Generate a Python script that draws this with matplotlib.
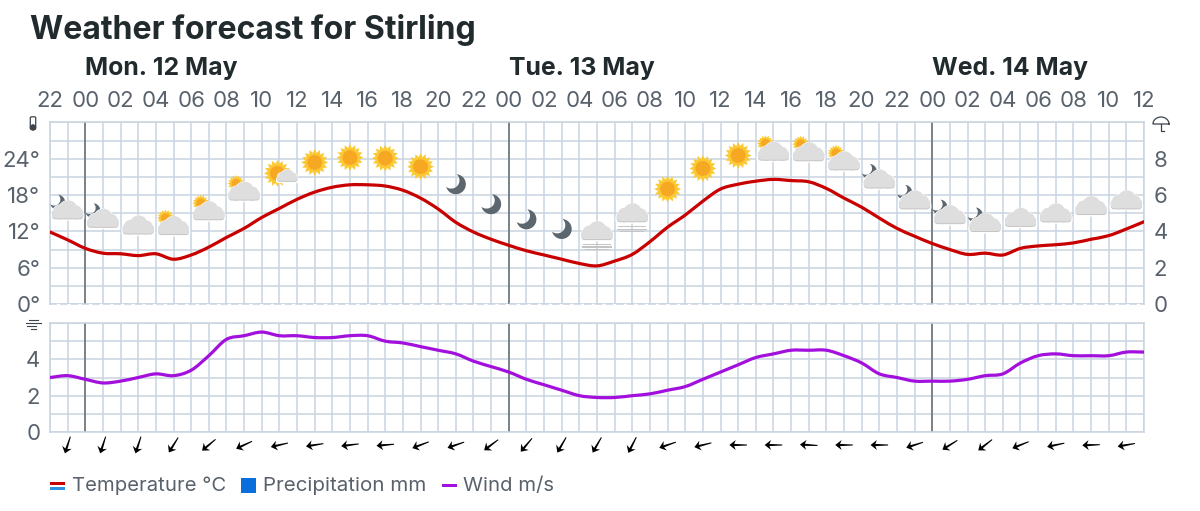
#!/usr/bin/python

import numpy as np
import matplotlib
matplotlib.use('Agg')
import matplotlib.pyplot as plt
from matplotlib.patches import Circle, FancyBboxPatch, PathPatch, Rectangle
from matplotlib.path import Path
from matplotlib.transforms import Affine2D, IdentityTransform

# hourly values, first one is 22:00 on Monday's eve
temperature = [11.9, 10.6, 9.2, 8.4, 8.3, 8.0, 8.3, 7.4, 8.1, 9.4, 11.0, 12.5, 14.3, 15.8, 17.3, 18.5,
               19.3, 19.7, 19.7, 19.5, 18.8, 17.5, 15.7, 13.5, 11.9, 10.7, 9.7, 8.8, 8.1, 7.4, 6.7, 6.3,
               7.1, 8.2, 10.3, 12.7, 14.7, 17.0, 19.0, 19.8, 20.3, 20.6, 20.4, 20.2, 19.1, 17.5, 16.0,
               14.2, 12.5, 11.2, 10.0, 9.0, 8.2, 8.4, 8.1, 9.2, 9.6, 9.8, 10.1, 10.7, 11.3, 12.4, 13.6]
wind = [3.0, 3.1, 2.9, 2.7, 2.8, 3.0, 3.2, 3.1, 3.4, 4.2, 5.1, 5.3, 5.5, 5.3, 5.3, 5.2, 5.2, 5.3, 5.3,
        5.0, 4.9, 4.7, 4.5, 4.3, 3.9, 3.6, 3.3, 2.9, 2.6, 2.3, 2.0, 1.9, 1.9, 2.0, 2.1, 2.3, 2.5, 2.9,
        3.3, 3.7, 4.1, 4.3, 4.5, 4.5, 4.5, 4.2, 3.8, 3.2, 3.0, 2.8, 2.8, 2.8, 2.9, 3.1, 3.2, 3.8, 4.2,
        4.3, 4.2, 4.2, 4.2, 4.4, 4.4]
hours = list(range(63))
hour_labels = ['22', '00', '02', '04', '06', '08', '10', '12', '14', '16', '18', '20'] + \
              ['22', '00', '02', '04', '06', '08', '10', '12', '14', '16', '18', '20'] + \
              ['22', '00', '02', '04', '06', '08', '10', '12']
midnights = [2, 26, 50]
day_labels = ['Mon. 12 May', 'Tue. 13 May', 'Wed. 14 May']

# symbols sit on every second hour
icon_hours = list(range(1, 62, 2))
icon_kinds = ['moon_cloud', 'moon_cloud', 'cloud', 'sun_cloud', 'sun_cloud', 'sun_cloud', 'sun_small',
              'sun', 'sun', 'sun', 'sun', 'moon', 'moon', 'moon', 'moon', 'fog', 'fog', 'sun', 'sun', 'sun',
              'sun_cloud', 'sun_cloud', 'sun_cloud', 'moon_cloud', 'moon_cloud', 'moon_cloud', 'moon_cloud',
              'cloud', 'cloud', 'cloud', 'cloud']
icon_levels = [14.0, 12.6, 11.5, 11.4, 13.85, 17.1, 21.6, 23.4, 24.2, 24.1, 22.7, 19.8, 16.5, 14.0, 12.4,
               10.4, 13.35, 19.0, 22.4, 24.55, 23.7, 23.6, 22.1, 19.1, 15.65, 13.2, 11.9, 12.75, 13.5, 14.7,
               15.65]
wind_from = [18, 18, 18, 32, 50, 65, 77, 81, 83, 85, 69, 71, 53, 40, 30, 30, 27, 71, 76, 90, 90, 93, 90, 90,
             72, 58, 52, 68, 78, 88, 80]

grid_col = '#c9d4df'
text_col = '#59626c'
dark_col = '#212b2e'

W, H = 1200, 511
px = IdentityTransform()
plt.rcParams['font.family'] = ['Inter', 'DejaVu Sans']
fig = plt.figure(figsize=(W / 100, H / 100), dpi=100)


def pixel_axes(left, top, right, bottom):
    return fig.add_axes([left / W, 1 - bottom / H, (right - left) / W, (bottom - top) / H])


def style_axes(ax, ymax, ystep):
    ax.set_xlim(0, 62)
    ax.set_ylim(0, ymax)
    ax.set_xticks(hours, minor=True)
    ax.set_yticks(np.arange(0, ymax + 1, ystep), minor=True)
    ax.xaxis.remove_overlapping_locs = False
    ax.yaxis.remove_overlapping_locs = False
    ax.grid(True, which='minor', color=grid_col, lw=1.1, zorder=1)
    ax.set_axisbelow(True)
    ax.tick_params(which='both', length=0)
    ax.tick_params(labelsize=16, labelcolor=text_col)
    for s in ax.spines.values():
        s.set_color(grid_col)
        s.set_linewidth(1.1)
    for m in midnights:
        ax.axvline(m, color='#6c747b', lw=1.2, zorder=2)


def smooth_line(ax, xs, ys, color):
    # same hourly values, joined with curves instead of corners
    pts = np.c_[xs, ys]
    tang = np.gradient(pts, axis=0) / 3.0
    verts = [pts[0]]
    for i in range(len(pts) - 1):
        verts += [pts[i] + tang[i], pts[i + 1] - tang[i + 1], pts[i + 1]]
    codes = [Path.MOVETO] + [Path.CURVE4] * (len(verts) - 1)
    ax.add_patch(PathPatch(Path(verts, codes), fc='none', ec=color, lw=2.3, zorder=4, capstyle='round'))


ax = pixel_axes(50, 122.5, 1144, 304)
style_axes(ax, 30, 3)
ax.set_yticks([0, 6, 12, 18, 24])
ax.set_yticklabels(['0°', '6°', '12°', '18°', '24°'])
ax.set_xticks(hours[::2])
ax.set_xticklabels(hour_labels)
ax.xaxis.tick_top()
ax.tick_params(axis='x', pad=8)
ax.tick_params(axis='y', pad=7)
ax.spines['bottom'].set_linestyle((0, (4, 3)))
smooth_line(ax, hours, temperature, '#c80000')

ax_rain = ax.twinx()
ax_rain.set_ylim(0, 10)
ax_rain.set_yticks([0, 2, 4, 6, 8])
ax_rain.tick_params(length=0, labelsize=16, labelcolor=text_col, pad=7)
for s in ax_rain.spines.values():
    s.set_visible(False)

ax2 = pixel_axes(50, 323, 1144, 432)
style_axes(ax2, 6, 1)
ax2.set_yticks([0, 2, 4])
ax2.tick_params(axis='y', pad=7)
ax2.set_xticks([])
smooth_line(ax2, hours, wind, '#a30fdc')


# the symbols are shapes in pixels around an anchor taken from the axes
def add(patch, x, y, z=5):
    patch.set_transform(Affine2D().translate(x, y))
    patch.set_clip_on(False)
    patch.set_zorder(z)
    fig.add_artist(patch)


def cloud(x, y, s=1.0, z=6):
    # halo, shaded bottom, lighter top
    for col, grow, lift in [('white', 1.3, 0), ('#c6c6c6', 0, 0), ('#dedede', 0, 1.0)]:
        for cx, cy, r in [(0.5, 9, 9), (-7.5, 6.8, 6.8), (8, 6.5, 6.5)]:
            add(Circle((cx * s, cy * s + lift), r * s + grow, fc=col, ec='none'), x, y, z)
        add(FancyBboxPatch((-12.5 * s - grow, 3 * s + lift - grow), 25 * s + 2 * grow, 3 * s,
                           boxstyle='round,pad=%.2f' % (3 * s), fc=col, ec='none'), x, y, z)
        z += 0.1


def sun(x, y, r=13.5, z=5):
    star = Path.unit_regular_star(16, 0.72)
    verts = star.vertices * r
    add(PathPatch(Path(verts, star.codes), fc='#fbc933', ec='none'), x, y, z)
    add(Circle((0, 0), r * 0.55, fc='#f7a823', ec='none'), x, y, z + 0.1)


def moon(x, y, r=10, z=5):
    # crescent: outer circle minus a circle shifted up left
    c = np.array([-0.46, 0.38]) * r
    ri = 0.82 * r
    d = np.hypot(*c)
    tc = np.arctan2(c[1], c[0])
    al = np.arccos((d ** 2 + r ** 2 - ri ** 2) / (2 * d * r))
    be = np.arccos((d ** 2 + ri ** 2 - r ** 2) / (2 * d * ri))
    a1 = np.linspace(tc + al, tc + 2 * np.pi - al, 60)
    a2 = np.linspace(tc + np.pi + be, tc + np.pi - be, 40)
    pts = np.r_[np.c_[r * np.cos(a1), r * np.sin(a1)],
                np.c_[c[0] + ri * np.cos(a2), c[1] + ri * np.sin(a2)]]
    add(PathPatch(Path(np.r_[pts, pts[:1]], closed=True), fc='#5c666f', ec='none'), x, y, z)


for hour, kind, level in zip(icon_hours, icon_kinds, icon_levels):
    x, y = ax.transData.transform((hour, level))
    if kind == 'sun':
        sun(x, y)
    elif kind == 'moon':
        moon(x, y)
    elif kind == 'cloud':
        cloud(x, y)
    elif kind == 'sun_cloud':
        sun(x - 8, y + 17, r=8.5)
        cloud(x, y)
    elif kind == 'moon_cloud':
        moon(x - 10, y + 17, r=7.5)
        cloud(x, y)
    elif kind == 'sun_small':
        sun(x - 2, y)
        cloud(x + 8, y - 8.5, s=0.65)
    elif kind == 'fog':
        cloud(x, y + 1)
        for off, half in [(-4, 14), (-6.5, 15), (-9, 12)]:
            add(Rectangle((-half, off), 2 * half, 1.1, fc='#c4c4c4', ec='none'), x, y)

# wind arrows, pointing where the wind blows to
for hour, deg in zip(icon_hours, wind_from):
    x, _ = ax2.transData.transform((hour, 0))
    y = H - 445
    arrow = Path([(0.5, 8.8), (-0.5, 8.8), (-1.1, -4), (-5, -2.4), (0, -8.8), (5, -2.4), (1.1, -4), (0.5, 8.8)],
                 closed=True)
    # drawn pointing south, which is a wind from north
    verts = Affine2D().rotate(-np.radians(deg)).transform(arrow.vertices)
    add(PathPatch(Path(verts, arrow.codes), fc='black', ec='none'), x, y)


def ptext(x, y, s, **kw):
    fig.text(x / W, 1 - y / H, s, **kw)


ptext(30, 30, 'Weather forecast for Stirling', fontsize=23.05, fontweight='bold', color=dark_col, va='center')
for m, label in zip(midnights, day_labels):
    x, _ = ax.transData.transform((m, 0))
    fig.text(x / W, 1 - 69 / H, label, fontsize=17.85, fontweight='bold', color=dark_col, va='center')

# legend
ptext(72, 486, 'Temperature °C', fontsize=14.6, color=text_col, va='center')
ptext(263, 486, 'Precipitation mm', fontsize=14.8, color=text_col, va='center')
ptext(463, 486, 'Wind m/s', fontsize=14.6, color=text_col, va='center')
fig.add_artist(Rectangle((50, H - 485), 15, 3, fc='#c80000', ec='none', transform=px))
fig.add_artist(Rectangle((50, H - 490), 15, 3, fc='#2f8fe0', ec='none', transform=px))
fig.add_artist(Rectangle((241, H - 493), 15, 15, fc='#0a6fdc', ec='none', transform=px))
fig.add_artist(Rectangle((441.5, H - 487), 15, 3, fc='#a30fdc', ec='none', transform=px))

# small axis glyphs
glyph = '#3d444b'
fig.add_artist(FancyBboxPatch((31.5, H - 128), 3, 10, boxstyle='round,pad=1.2', fc='white', ec=glyph, lw=0.9, transform=px))
fig.add_artist(Circle((33, H - 127.5), 2.8, fc=glyph, ec=glyph, lw=0.6, transform=px))
a = np.linspace(0, np.pi, 40)
fig.add_artist(plt.Line2D(np.r_[1161 + 8 * np.cos(a), 1153, 1169], np.r_[H - 124 + 7 * np.sin(a), H - 124, H - 124],
                          color=glyph, lw=0.9, transform=px))
fig.add_artist(plt.Line2D([1161, 1161, 1163.5], [H - 124, H - 130.5, H - 130.5], color=glyph, lw=0.9, transform=px))
for y0, x0, x1 in [(320, 29, 38), (323, 26, 41), (326, 27, 36), (329, 31, 36)]:
    fig.add_artist(plt.Line2D([x0, x1], [H - y0, H - y0], color=glyph, lw=0.8, transform=px))

fig.savefig('out.png', dpi=100)
